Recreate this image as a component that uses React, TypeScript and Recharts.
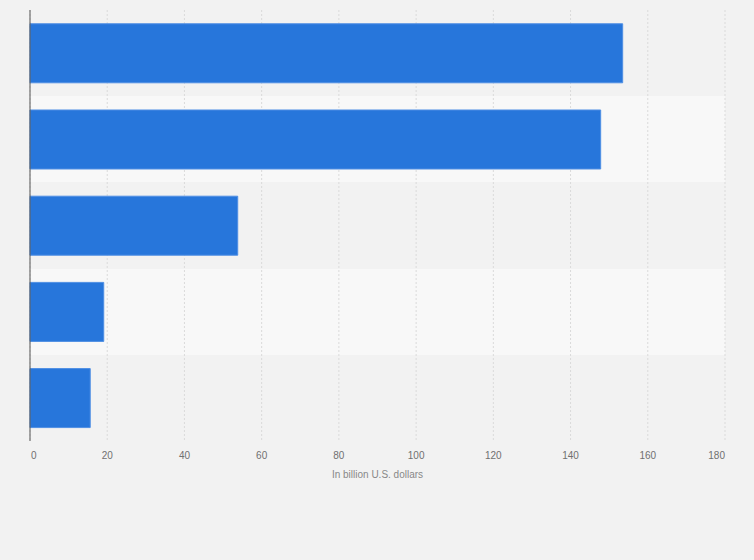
import { useEffect } from 'react';
import { BarChart, Bar, XAxis, YAxis, CartesianGrid, Label } from 'recharts';

const categories = ['Category 1', 'Category 2', 'Category 3', 'Category 4', 'Category 5'];
const values = [153.5, 147.8, 53.8, 19.1, 15.6];
const xTicks = [0, 20, 40, 60, 80, 100, 120, 140, 160, 180];
const axisTitle = 'In billion U.S. dollars';

const data = categories.map((name, i) => ({ name, value: values[i] }));

const FONT = '"Liberation Sans", Arial, Helvetica, sans-serif';

function XTick(props: any) {
    const { x, y, payload, index } = props;
    const last = index === xTicks.length - 1;
    const first = index === 0;
    return (
        <text
            x={first ? x + 1 : x}
            y={y}
            dy="0.71em"
            textAnchor={first ? 'start' : last ? 'end' : 'middle'}
            fontSize={10}
            fontFamily={FONT}
            fill="#707070"
        >
            {payload.value}
        </text>
    );
}

export default function App() {
    useEffect(() => {
        document.body.style.margin = '0';
        document.body.style.background = '#f2f2f2';
    }, []);

    return (
        <div style={{ width: 754, height: 560, background: '#f2f2f2' }}>
            <BarChart
                width={754}
                height={560}
                data={data}
                layout="vertical"
                margin={{ top: 10, right: 29, left: 29, bottom: 89 }}
                barCategoryGap="16%"
            >
                <CartesianGrid
                    vertical={false}
                    stroke="none"
                    horizontalFill={['#f2f2f2', '#f8f8f8']}
                    horizontalCoordinatesGenerator={({ offset }: any) =>
                        categories.map((_, i) => offset.top + (i * offset.height) / categories.length)
                    }
                />
                <CartesianGrid horizontal={false} stroke="#dadada" strokeDasharray="2 2" />
                <XAxis
                    type="number"
                    domain={[0, 180]}
                    ticks={xTicks}
                    axisLine={false}
                    tickLine={false}
                    tickMargin={5}
                    height={30}
                    tick={<XTick />}
                    interval={0}
                >
                    <Label
                        value={axisTitle}
                        position="bottom"
                        offset={0}
                        fontSize={10}
                        fontFamily={FONT}
                        fill="#888"
                    />
                </XAxis>
                <YAxis
                    type="category"
                    dataKey="name"
                    width={1}
                    tick={false}
                    tickLine={false}
                    axisLine={{ stroke: '#555', strokeWidth: 1 }}
                />
                <Bar
                    dataKey="value"
                    fill="#2776db"
                    stroke="#4f8fe4"
                    strokeWidth={1}
                    isAnimationActive={false}
                />
            </BarChart>
        </div>
    );
}
